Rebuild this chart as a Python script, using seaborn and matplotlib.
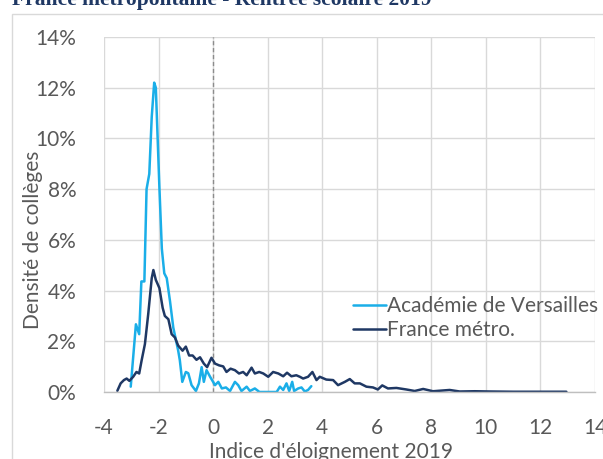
import matplotlib
matplotlib.use("Agg")
import matplotlib.pyplot as plt
import seaborn as sns
import pandas as pd
from matplotlib.patches import Rectangle
from matplotlib.ticker import FuncFormatter

# Académie de Versailles
vers_x = [-3.02, -2.83, -2.71, -2.63, -2.52, -2.44, -2.34, -2.25, -2.16, -2.10, -1.97, -1.88, -1.79,
          -1.70, -1.58, -1.46, -1.28, -1.22, -1.13, -1.00, -0.91, -0.79, -0.63, -0.52, -0.42, -0.34,
          -0.24, -0.11, 0.07, 0.19, 0.32, 0.47, 0.62, 0.80, 0.92, 1.04, 1.23, 1.35, 1.53, 1.70, 2.00,
          2.33, 2.45, 2.57, 2.69, 2.79, 2.90, 2.97, 3.12, 3.24, 3.36, 3.48, 3.60]
vers_y = [0.21, 2.67, 2.28, 4.36, 4.36, 8.0, 8.6, 10.85, 12.2, 12.0, 8.1, 5.65, 4.68,
          4.49, 3.58, 2.54, 1.63, 1.25, 0.40, 0.79, 0.74, 0.27, 0.04, 0.34, 0.98, 0.40,
          0.86, 0.60, 0.27, 0.40, 0.14, 0.18, 0.04, 0.40, 0.27, 0.04, 0.21, 0.04, 0.14, 0.0, 0.0,
          0.0, 0.21, 0.08, 0.34, 0.04, 0.40, 0.04, 0.14, 0.18, 0.02, 0.08, 0.23]

# France métropolitaine
fr_x = [-3.51, -3.39, -3.27, -3.17, -3.07, -2.93, -2.81, -2.71, -2.62, -2.50, -2.38, -2.25, -2.19,
        -2.10, -1.97, -1.85, -1.77, -1.64, -1.52, -1.40, -1.28, -1.12, -1.00, -0.88, -0.75, -0.61,
        -0.48, -0.34, -0.22, -0.06, 0.07, 0.22, 0.37, 0.49, 0.64, 0.80, 0.95, 1.10, 1.23, 1.41,
        1.53, 1.69, 1.84, 2.02, 2.20, 2.39, 2.57, 2.71, 2.87, 3.05, 3.18, 3.30, 3.48, 3.64, 3.79,
        3.91, 4.15, 4.40, 4.58, 4.83, 5.01, 5.19, 5.38, 5.62, 5.86, 6.04, 6.20, 6.41, 6.72, 7.08,
        7.39, 7.70, 8.06, 8.67, 9.04, 9.59, 10.14, 11.0, 12.0, 12.95]
fr_y = [0.05, 0.34, 0.47, 0.53, 0.44, 0.60, 0.79, 0.73, 1.25, 1.89, 3.06, 4.49, 4.81,
        4.42, 4.10, 3.32, 3.00, 2.87, 2.28, 2.15, 1.83, 1.63, 1.79, 1.44, 1.44, 1.27,
        1.37, 1.12, 0.98, 1.35, 1.12, 1.05, 1.01, 0.79, 0.92, 0.86, 0.73, 0.79, 0.66, 0.96,
        0.73, 0.79, 0.73, 0.60, 0.79, 0.73, 0.62, 0.76, 0.62, 0.66, 0.60, 0.53, 0.60, 0.79, 0.47,
        0.60, 0.49, 0.47, 0.27, 0.40, 0.51, 0.34, 0.34, 0.21, 0.18, 0.10, 0.26, 0.14, 0.16, 0.10,
        0.04, 0.12, 0.03, 0.08, 0.02, 0.03, 0.02, 0.01, 0.01, 0.01]

series_names = ["Académie de Versailles", "France métro."]
x_ticks = [-4, -2, 0, 2, 4, 6, 8, 10, 12, 14]
y_ticks = [0, 2, 4, 6, 8, 10, 12, 14]

df = pd.concat([
    pd.DataFrame({"x": vers_x, "y": vers_y, "serie": series_names[0]}),
    pd.DataFrame({"x": fr_x, "y": fr_y, "serie": series_names[1]}),
])

sns.set_theme(style="white")
plt.rcParams["font.family"] = ["Lato", "DejaVu Sans"]
plt.rcParams["axes.unicode_minus"] = False
grey = "#595959"

fig = plt.figure(figsize=(6.03, 4.59), dpi=100)
fig.patches.append(Rectangle((12 / 603, -0.1), 1.0, 1 - 14 / 459 + 0.1, transform=fig.transFigure,
                             fill=False, edgecolor="#D9D9D9", linewidth=1.0))
fig.text(12 / 603, 1 - 5 / 459, "France métropolitaine - Rentrée scolaire 2019",
         family="Liberation Serif", fontweight="bold", fontsize=15.5, color="#1F3864",
         va="baseline", ha="left")

ax = fig.add_axes([104 / 603, 1 - 392 / 459, (595 - 104) / 603, (392 - 37) / 459])
ax.set_xlim(-4, 14)
ax.set_ylim(0, 14)
ax.set_xticks(x_ticks)
ax.set_yticks(y_ticks)
ax.grid(True, color="#D9D9D9", linewidth=1.0)
ax.set_axisbelow(True)
ax.axvline(0, color="#8C8C8C", linestyle=(0, (3, 2)), linewidth=1.0, zorder=1.5)

sns.lineplot(data=df, x="x", y="y", hue="serie", palette=["#1AAEE8", "#1F3864"],
             linewidth=1.8, ax=ax, sort=False, estimator=None)

for s in ["top", "right", "left"]:
    ax.spines[s].set_visible(False)
ax.spines["bottom"].set_color("#BFBFBF")
ax.spines["bottom"].set_linewidth(1.0)

ax.yaxis.set_major_formatter(FuncFormatter(lambda v, p: f"{int(v)}%"))
ax.tick_params(axis="both", colors=grey, labelsize=15, length=0)
ax.tick_params(axis="y", pad=20)
ax.tick_params(axis="x", pad=19)
ax.set_xlabel("Indice d'éloignement 2019", fontsize=15, color=grey)
ax.set_ylabel("Densité de collèges", fontsize=15, color=grey)
ax.xaxis.set_label_coords((331 - 104) / 491, (392 - 452) / 355, transform=ax.transAxes)
ax.yaxis.set_label_coords((33 - 104) / 491, (392 - 240) / 355, transform=ax.transAxes)
ax.xaxis.label.set_va("center")
ax.yaxis.label.set_va("center")

leg = ax.legend(loc="upper left", bbox_to_anchor=((353 - 104) / 491, (392 - 296) / 355),
                frameon=False, fontsize=15, handlelength=1.6, handletextpad=0.05,
                labelspacing=0.2, borderaxespad=0, borderpad=0)
for t in leg.get_texts():
    t.set_color(grey)

fig.savefig("out.png", dpi=100)
